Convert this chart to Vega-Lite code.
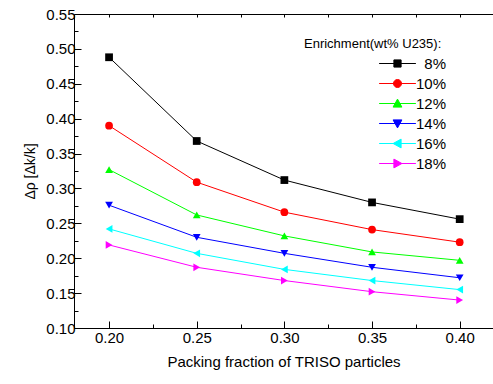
{
  "$schema": "https://vega.github.io/schema/vega-lite/v6.json",
  "autosize": {"type": "none"},
  "padding": {"left": 74, "top": 14, "right": 0, "bottom": 56},
  "width": 419,
  "height": 314,
  "config": {
    "font": "Liberation Sans",
    "view": {"stroke": null},
    "axis": {"domainColor": "#000", "tickColor": "#000", "labelColor": "#000", "titleColor": "#000", "grid": false, "labelFont": "Liberation Sans", "titleFont": "Liberation Sans", "titleFontWeight": "normal"},
    "legend": {"symbolFillColor": "#000", "symbolStrokeColor": "#000"}
  },
  "data": {"values": [
    {"pf": 0.20, "drho": 0.488, "e": "8%"},
    {"pf": 0.25, "drho": 0.368, "e": "8%"},
    {"pf": 0.30, "drho": 0.312, "e": "8%"},
    {"pf": 0.35, "drho": 0.280, "e": "8%"},
    {"pf": 0.40, "drho": 0.256, "e": "8%"},
    {"pf": 0.20, "drho": 0.390, "e": "10%"},
    {"pf": 0.25, "drho": 0.309, "e": "10%"},
    {"pf": 0.30, "drho": 0.266, "e": "10%"},
    {"pf": 0.35, "drho": 0.241, "e": "10%"},
    {"pf": 0.40, "drho": 0.223, "e": "10%"},
    {"pf": 0.20, "drho": 0.327, "e": "12%"},
    {"pf": 0.25, "drho": 0.262, "e": "12%"},
    {"pf": 0.30, "drho": 0.232, "e": "12%"},
    {"pf": 0.35, "drho": 0.209, "e": "12%"},
    {"pf": 0.40, "drho": 0.197, "e": "12%"},
    {"pf": 0.20, "drho": 0.276, "e": "14%"},
    {"pf": 0.25, "drho": 0.230, "e": "14%"},
    {"pf": 0.30, "drho": 0.207, "e": "14%"},
    {"pf": 0.35, "drho": 0.187, "e": "14%"},
    {"pf": 0.40, "drho": 0.172, "e": "14%"},
    {"pf": 0.20, "drho": 0.242, "e": "16%"},
    {"pf": 0.25, "drho": 0.207, "e": "16%"},
    {"pf": 0.30, "drho": 0.184, "e": "16%"},
    {"pf": 0.35, "drho": 0.168, "e": "16%"},
    {"pf": 0.40, "drho": 0.155, "e": "16%"},
    {"pf": 0.20, "drho": 0.219, "e": "18%"},
    {"pf": 0.25, "drho": 0.187, "e": "18%"},
    {"pf": 0.30, "drho": 0.168, "e": "18%"},
    {"pf": 0.35, "drho": 0.152, "e": "18%"},
    {"pf": 0.40, "drho": 0.140, "e": "18%"}
  ]},
  "layer": [
    {
      "mark": {"type": "line", "strokeWidth": 1},
      "encoding": {
        "x": {"field": "pf", "type": "quantitative", "scale": {"domain": [0.18, 0.419], "nice": false, "zero": false},
          "axis": {"orient": "bottom", "values": [0.2, 0.25, 0.3, 0.35, 0.4], "format": ".2f", "tickSize": -7, "labelPadding": 9, "labelFontSize": 15, "title": "Packing fraction of TRISO particles", "titleFontSize": 15, "titlePadding": 9}},
        "y": {"field": "drho", "type": "quantitative", "scale": {"domain": [0.1, 0.55], "nice": false, "zero": false},
          "axis": {"orient": "left", "values": [0.1, 0.15, 0.2, 0.25, 0.3, 0.35, 0.4, 0.45, 0.5, 0.55], "format": ".2f", "tickSize": -7, "labelPadding": 6, "labelFontSize": 15, "title": "Δρ [Δk/k]", "titleFontSize": 14, "titlePadding": 8}},
        "color": {"field": "e", "type": "nominal", "scale": {"domain": ["8%", "10%", "12%", "14%", "16%", "18%"], "range": ["#000000", "#ff0000", "#00ff00", "#0000ff", "#00ffff", "#ff00ff"]}, "legend": null},
        "detail": {"field": "e"}
      }
    },
    {
      "mark": {"type": "point", "filled": true, "opacity": 1, "size": 60},
      "encoding": {
        "x": {"field": "pf", "type": "quantitative",
          "axis": {"orient": "bottom", "values": [0.225, 0.275, 0.325, 0.375], "labels": false, "domain": false, "tickSize": -4, "title": null}},
        "y": {"field": "drho", "type": "quantitative",
          "axis": {"orient": "left", "values": [0.125, 0.175, 0.225, 0.275, 0.325, 0.375, 0.425, 0.475, 0.525], "labels": false, "domain": false, "tickSize": -4, "title": null}},
        "color": {"field": "e", "type": "nominal", "legend": null},
        "shape": {"field": "e", "type": "nominal", "scale": {"domain": ["8%", "10%", "12%", "14%", "16%", "18%"], "range": ["square", "circle", "triangle-up", "triangle-down", "triangle-left", "triangle-right"]}, "legend": null}
      }
    },
    {
      "mark": {"type": "point", "filled": true, "opacity": 0, "strokeWidth": 1},
      "encoding": {
        "x": {"field": "pf", "type": "quantitative",
          "axis": {"orient": "top", "values": [0.2, 0.225, 0.25, 0.275, 0.3, 0.325, 0.35, 0.375, 0.4], "labels": false, "tickSize": -3, "title": null}},
        "y": {"field": "drho", "type": "quantitative", "axis": null},
        "shape": {"field": "e", "type": "nominal", "scale": {"domain": ["8%", "10%", "12%", "14%", "16%", "18%"], "range": [
          "M-4.6,0H4.6M-0.9,-0.9H0.9V0.9H-0.9Z",
          "M-4.6,0H4.6M1,0A1,1,0,1,1,-1,0A1,1,0,1,1,1,0Z",
          "M-4.6,0H4.6M0,-1.1L1.1,0.9L-1.1,0.9Z",
          "M-4.6,0H4.6M0,1.1L1.1,-0.9L-1.1,-0.9Z",
          "M-4.6,0H4.6M-1.1,0L0.9,-1.1L0.9,1.1Z",
          "M-4.6,0H4.6M1.1,0L-0.9,-1.1L-0.9,1.1Z"]},
          "legend": {"title": "Enrichment(wt% U235):", "orient": "none", "legendX": 230, "legendY": 24, "padding": 0,
            "titleFontSize": 13, "titleFontWeight": "normal", "titleColor": "#000", "titlePadding": 5,
            "labelFontSize": 15, "labelColor": "#000", "labelOffset": 41, "labelAlign": "right", "symbolOffset": 86, "symbolSize": 64, "symbolStrokeWidth": 1, "rowPadding": 4,
            "symbolFillColor": "#000", "symbolStrokeColor": "#000"}},
        "fill": {"field": "e", "type": "nominal", "scale": {"domain": ["8%", "10%", "12%", "14%", "16%", "18%"], "range": ["#000000", "#ff0000", "#00ff00", "#0000ff", "#00ffff", "#ff00ff"]},
          "legend": {"title": "Enrichment(wt% U235):", "orient": "none", "legendX": 230, "legendY": 24, "padding": 0,
            "titleFontSize": 13, "titleFontWeight": "normal", "titleColor": "#000", "titlePadding": 5,
            "labelFontSize": 15, "labelColor": "#000", "labelOffset": 41, "labelAlign": "right", "symbolOffset": 86, "symbolSize": 64, "symbolStrokeWidth": 1, "rowPadding": 4,
            "symbolFillColor": "#000", "symbolStrokeColor": "#000"}},
        "stroke": {"field": "e", "type": "nominal", "scale": {"domain": ["8%", "10%", "12%", "14%", "16%", "18%"], "range": ["#000000", "#ff0000", "#00ff00", "#0000ff", "#00ffff", "#ff00ff"]},
          "legend": {"title": "Enrichment(wt% U235):", "orient": "none", "legendX": 230, "legendY": 24, "padding": 0,
            "titleFontSize": 13, "titleFontWeight": "normal", "titleColor": "#000", "titlePadding": 5,
            "labelFontSize": 15, "labelColor": "#000", "labelOffset": 41, "labelAlign": "right", "symbolOffset": 86, "symbolSize": 64, "symbolStrokeWidth": 1, "rowPadding": 4,
            "symbolFillColor": "#000", "symbolStrokeColor": "#000"}}
      }
    }
  ],
  "resolve": {
    "axis": {"x": "independent", "y": "independent"},
    "scale": {"shape": "independent", "fill": "independent", "stroke": "independent"}
  }
}
